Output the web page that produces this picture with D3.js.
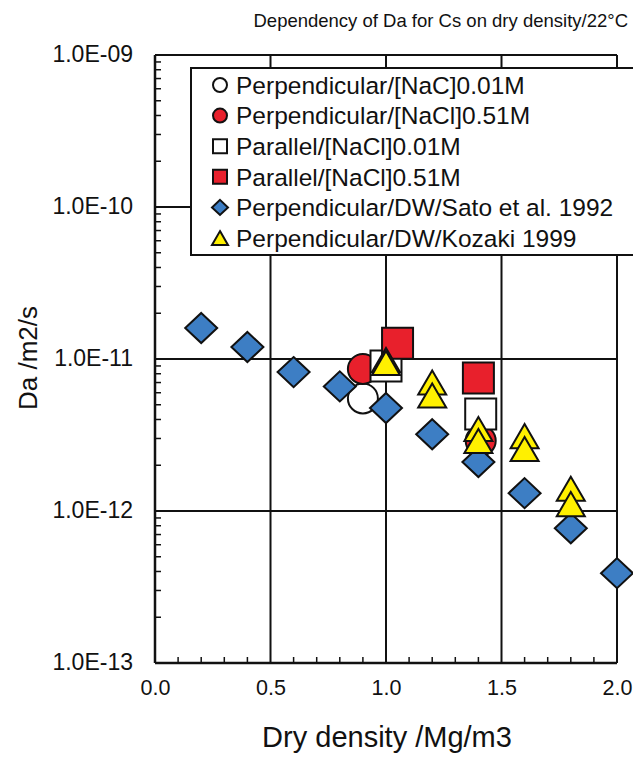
<!DOCTYPE html>
<html>
<head>
<meta charset="utf-8">
<script src="https://cdn.jsdelivr.net/npm/d3@7"></script>
<style>
  html, body { margin: 0; padding: 0; background: #fff; overflow: hidden; }
  svg { display: block; font-family: "Liberation Sans", Arial, sans-serif; }
</style>
</head>
<body>
<svg id="chart" width="633" height="758"></svg>
<script>
// ---- data ----
const xTickValues = [0, 0.5, 1.0, 1.5, 2.0];
const xTickLabels = ["0.0", "0.5", "1.0", "1.5", "2.0"];
const yTickValues = [1e-9, 1e-10, 1e-11, 1e-12, 1e-13];
const yTickLabels = ["1.0E-09", "1.0E-10", "1.0E-11", "1.0E-12", "1.0E-13"];

const perp001X = [0.9];
const perp001Y = [5.5e-12];
const perp051X = [0.9, 1.41];
const perp051Y = [8.6e-12, 2.9e-12];
const para001X = [1.0, 1.41];
const para001Y = [9.0e-12, 4.35e-12];
const para051X = [1.05, 1.40];
const para051Y = [1.27e-11, 7.5e-12];
const satoX = [0.2, 0.4, 0.6, 0.8, 1.0, 1.2, 1.4, 1.6, 1.8, 2.0];
const satoY = [1.6e-11, 1.2e-11, 8.2e-12, 6.6e-12, 4.76e-12, 3.2e-12, 2.1e-12, 1.31e-12, 7.7e-13, 3.9e-13];
const kozakiX = [1.0, 1.0, 1.2, 1.2, 1.4, 1.4, 1.6, 1.6, 1.8, 1.8];
const kozakiY = [9.85e-12, 9.4e-12, 7.0e-12, 5.75e-12, 3.46e-12, 2.89e-12, 3.11e-12, 2.56e-12, 1.4e-12, 1.11e-12];

const legendLabels = [
  "Perpendicular/[NaC]0.01M",
  "Perpendicular/[NaCl]0.51M",
  "Parallel/[NaCl]0.01M",
  "Parallel/[NaCl]0.51M",
  "Perpendicular/DW/Sato et al. 1992",
  "Perpendicular/DW/Kozaki 1999"
];

// ---- styling ----
const RED = "#e8202c", BLUE = "#3d7ec4", YELLOW = "#fff000";

const series = [
  { xs: perp001X, ys: perp001Y, shape: "circle",   fill: "#ffffff" },
  { xs: perp051X, ys: perp051Y, shape: "circle",   fill: RED },
  { xs: para001X, ys: para001Y, shape: "square",   fill: "#ffffff" },
  { xs: para051X, ys: para051Y, shape: "square",   fill: RED },
  { xs: satoX,    ys: satoY,    shape: "diamond",  fill: BLUE },
  { xs: kozakiX,  ys: kozakiY,  shape: "triangle", fill: YELLOW }
];

// marker outline paths centred on the origin; s = full width
function markerPath(shape, s) {
  const h = s / 2;
  const p = d3.path();
  if (shape === "circle") {
    p.arc(0, 0, h, 0, 2 * Math.PI);
  } else if (shape === "square") {
    p.rect(-h, -h, s, s);
  } else if (shape === "diamond") {
    const v = h * 0.94;
    p.moveTo(0, -v); p.lineTo(h, 0); p.lineTo(0, v); p.lineTo(-h, 0); p.closePath();
  } else if (shape === "triangle") {
    const th = s * 0.86 / 2;
    p.moveTo(0, -th); p.lineTo(h, th); p.lineTo(-h, th); p.closePath();
  }
  return p.toString();
}
const markerSize = { circle: 30, square: 31, diamond: 32, triangle: 28 };
const legendSize = { circle: 14, square: 14, diamond: 16, triangle: 16 };

// ---- layout ----
const svg = d3.select("#chart");
const x = d3.scaleLinear().domain([0, 2]).range([155, 617]);
const y = d3.scaleLog().domain([1e-13, 1e-9]).range([663, 55]);

// title
svg.append("text")
  .attr("x", 628).attr("y", 27)
  .attr("text-anchor", "end")
  .attr("font-size", 18.5)
  .attr("fill", "#111")
  .text("Dependency of Da for Cs on dry density/22\u00B0C");

// grid lines
const grid = svg.append("g").attr("stroke", "#111").attr("stroke-width", 2);
grid.selectAll("line.h").data(yTickValues).join("line")
  .attr("class", "h")
  .attr("x1", x(0)).attr("x2", x(2))
  .attr("y1", d => y(d)).attr("y2", d => y(d));
grid.selectAll("line.v").data(xTickValues).join("line")
  .attr("class", "v")
  .attr("x1", d => x(d)).attr("x2", d => x(d))
  .attr("y1", y(1e-9)).attr("y2", y(1e-13));

// axis frame lines (left / bottom slightly heavier)
svg.append("line").attr("x1", x(0)).attr("x2", x(0)).attr("y1", y(1e-9)).attr("y2", y(1e-13))
  .attr("stroke", "#111").attr("stroke-width", 2.5);
svg.append("line").attr("x1", x(0)).attr("x2", x(2)).attr("y1", y(1e-13)).attr("y2", y(1e-13))
  .attr("stroke", "#111").attr("stroke-width", 2.5);

// minor ticks on the left axis (2..9 of each decade)
const minorY = [];
[-13, -12, -11, -10].forEach(e => { for (let k = 2; k <= 9; k++) minorY.push(k * Math.pow(10, e)); });
svg.append("g").selectAll("line").data(minorY).join("line")
  .attr("x1", x(0)).attr("x2", x(0) + 6)
  .attr("y1", d => y(d)).attr("y2", d => y(d))
  .attr("stroke", "#111").attr("stroke-width", 1.5);

// minor ticks on the bottom axis every 0.1
const minorX = d3.range(1, 20).map(i => i / 10).filter(v => Math.abs(v * 2 - Math.round(v * 2)) > 1e-6);
svg.append("g").selectAll("line").data(minorX).join("line")
  .attr("x1", d => x(d)).attr("x2", d => x(d))
  .attr("y1", y(1e-13)).attr("y2", y(1e-13) - 6)
  .attr("stroke", "#111").attr("stroke-width", 1.5);

// tick labels through d3 axes
const yAxis = d3.axisLeft(y).tickValues(yTickValues)
  .tickFormat((d, i) => yTickLabels[i]).tickSize(0).tickPadding(22);
const gy = svg.append("g").attr("transform", `translate(${x(0)},0)`).call(yAxis);
gy.select(".domain").remove();
gy.selectAll("text").attr("font-size", 23).attr("fill", "#111")
  .attr("font-family", "Liberation Sans, Arial, sans-serif")
  .attr("dy", "0.28em");

const xAxis = d3.axisBottom(x).tickValues(xTickValues)
  .tickFormat((d, i) => xTickLabels[i]).tickSize(0).tickPadding(17);
const gx = svg.append("g").attr("transform", `translate(0,${y(1e-13)})`).call(xAxis);
gx.select(".domain").remove();
gx.selectAll("text").attr("font-size", 21.5).attr("fill", "#111")
  .attr("font-family", "Liberation Sans, Arial, sans-serif");

// axis titles
svg.append("text")
  .attr("x", 387).attr("y", 747)
  .attr("text-anchor", "middle")
  .attr("font-size", 29).attr("fill", "#111")
  .text("Dry density /Mg/m3");
svg.append("text")
  .attr("transform", "translate(37,358) rotate(-90)")
  .attr("text-anchor", "middle")
  .attr("font-size", 26).attr("fill", "#111")
  .text("Da /m2/s");

// data markers
const marks = svg.append("g");
series.forEach(s => {
  const pts = s.xs.map((v, i) => [v, s.ys[i]]);
  marks.append("g").selectAll("path").data(pts).join("path")
    .attr("transform", d => `translate(${x(d[0])},${y(d[1])})`)
    .attr("d", markerPath(s.shape, markerSize[s.shape]))
    .attr("fill", s.fill)
    .attr("stroke", "#111")
    .attr("stroke-width", 2)
    .attr("stroke-linejoin", "miter");
});

// legend
const lg = svg.append("g");
lg.append("rect")
  .attr("x", 191).attr("y", 68).attr("width", 500).attr("height", 187)
  .attr("fill", "#fff").attr("stroke", "#111").attr("stroke-width", 2);
const rowY = i => 85 + i * 30.6;
series.forEach((s, i) => {
  lg.append("path")
    .attr("transform", `translate(220,${rowY(i)})`)
    .attr("d", markerPath(s.shape, legendSize[s.shape]))
    .attr("fill", s.fill).attr("stroke", "#111").attr("stroke-width", 2);
  lg.append("text")
    .attr("x", 236).attr("y", rowY(i)).attr("dy", "0.36em")
    .attr("font-size", 24.5).attr("fill", "#111")
    .text(legendLabels[i]);
});
</script>
</body>
</html>
